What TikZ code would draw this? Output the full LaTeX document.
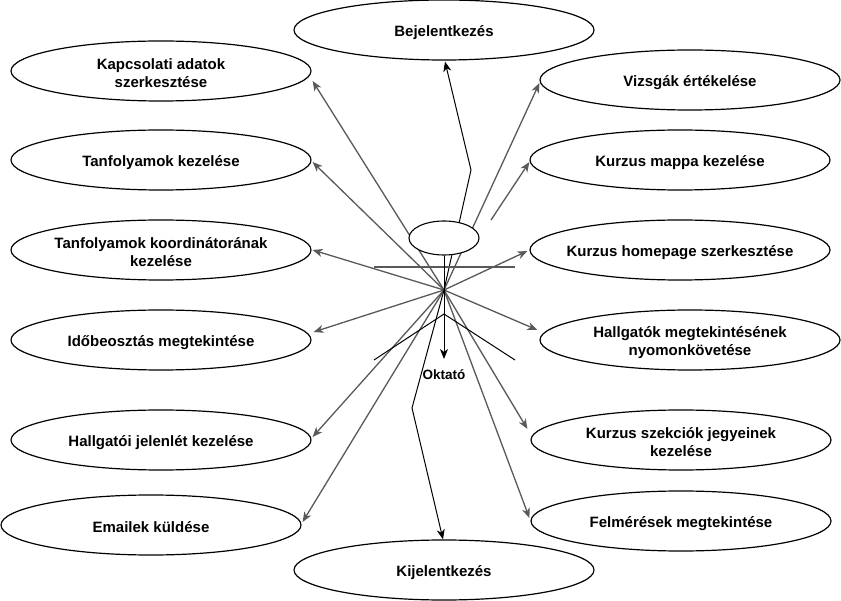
\documentclass[tikz,border=0pt]{standalone}
\usepackage{fontspec}
\setmainfont{Liberation Sans}
\usetikzlibrary{shapes.geometric,arrows.meta,calc}
\begin{document}
\begin{tikzpicture}[x=1pt,y=-1pt,
  uc/.style={draw=black, line width=1.2pt, ellipse, minimum width=300pt, minimum height=60pt, inner sep=0pt},
  lbl/.style={font=\bfseries\fontsize{15}{18}\selectfont, align=center, inner sep=0pt, yshift=-2.5pt},
  tip/.style={-{Stealth[length=10pt,width=8pt,inset=3pt]}},
  conn/.style={tip, draw=black!65, line width=1.3pt},
  blk/.style={draw=black, line width=1pt}]
\useasboundingbox (0,0) rectangle (841,601);

% use cases
\node[uc] (bej) at (444,30) {};
\node[lbl] (bejt) at (bej) {Bejelentkezés};
\node[uc] (kap) at (161,71) {};
\node[lbl] (kapt) at (kap) {Kapcsolati adatok\\szerkesztése};
\node[uc] (tanf) at (161,160) {};
\node[lbl] (tanft) at (tanf) {Tanfolyamok kezelése};
\node[uc] (koord) at (161,250) {};
\node[lbl] (koordt) at (koord) {Tanfolyamok koordinátorának\\kezelése};
\node[uc] (idob) at (161,340) {};
\node[lbl] (idobt) at (idob) {Időbeosztás megtekintése};
\node[uc] (hjel) at (161,440) {};
\node[lbl] (hjelt) at (hjel) {Hallgatói jelenlét kezelése};
\node[uc] (email) at (151,525) {};
\node[lbl] (emailt) at (email) {Emailek küldése};
\node[uc] (kij) at (444,570) {};
\node[lbl] (kijt) at (kij) {Kijelentkezés};
\node[uc] (vizs) at (690,80) {};
\node[lbl] (vizst) at (vizs) {Vizsgák értékelése};
\node[uc] (mappa) at (680,160) {};
\node[lbl] (mappat) at (mappa) {Kurzus mappa kezelése};
\node[uc] (home) at (680,250) {};
\node[lbl] (homet) at (home) {Kurzus homepage szerkesztése};
\node[uc] (hmeg) at (690,340) {};
\node[lbl] (hmegt) at (hmeg) {Hallgatók megtekintésének\\nyomonkövetése};
\node[uc] (szek) at (681,440) {};
\node[lbl] (szekt) at (szek) {Kurzus szekciók jegyeinek\\kezelése};
\node[uc] (felm) at (681,521) {};
\node[lbl] (felmt) at (felm) {Felmérések megtekintése};

% actor geometry
\coordinate (ctr) at (444,290);
\coordinate (armL) at (374,267);
\coordinate (armR) at (515,267);
\coordinate (hip) at (444,314);
\coordinate (legL) at (374,360);
\coordinate (legR) at (515,360);
\coordinate (bejk) at (471,170);
\coordinate (kijk) at (412,408);
\coordinate (mst) at (491,220);
\coordinate (bodyend) at (444,359);

% connectors
\draw[conn] (ctr) -- ($(kap.east)+(1,10)$);
\draw[conn] (ctr) -- ($(tanf.east)+(1,2)$);
\draw[conn] (ctr) -- ($(koord.east)+(1,0)$);
\draw[conn] (ctr) -- ($(idob.east)+(2,-8)$);
\draw[conn] (ctr) -- ($(hjel.east)+(1,-3)$);
\draw[conn] (ctr) -- ($(email.east)+(1,-3)$);
\draw[conn] (ctr) -- ($(vizs.west)+(0,3)$);
\draw[conn] (mst) -- ($(mappa.west)+(0,2)$);
\draw[conn] (ctr) -- ($(home.west)+(-2,1)$);
\draw[conn] (ctr) -- ($(hmeg.west)+(-2,-10)$);
\draw[conn] (ctr) -- ($(szek.west)+(-3,-11)$);
\draw[conn] (ctr) -- ($(felm.west)+(-1,-3)$);
\draw[blk, tip] (ctr) -- (bejk) -- ($(bej.south)+(1,1)$);
\draw[blk, tip] (ctr) -- (kijk) -- ($(kij.north)+(-1,0)$);

% actor
\draw[draw=black!65, line width=1.3pt] (armL) -- (armR);
\draw[blk] (legL) -- (hip) -- (legR);
\node[draw=black, line width=1.1pt, fill=white, ellipse, minimum width=70pt, minimum height=34pt, inner sep=0pt] (head) at (444,238) {};
\draw[blk, tip] (head.south) -- (bodyend);
\node[font=\bfseries\fontsize{13.5}{16}\selectfont, inner sep=0pt] (okt) at (444,375) {Oktató};
\end{tikzpicture}
\end{document}
